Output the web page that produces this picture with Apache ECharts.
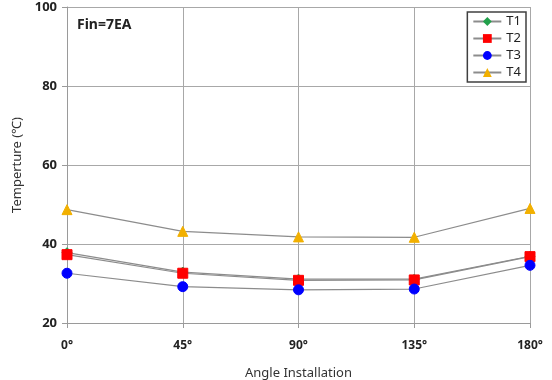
<!DOCTYPE html>
<html>
<head>
<meta charset="utf-8">
<script src="https://cdn.jsdelivr.net/npm/echarts@6/dist/echarts.min.js"></script>
<style>
  html, body { margin: 0; padding: 0; background: #fff; }
  #chart { width: 552px; height: 380px; }
</style>
</head>
<body>
<div id="chart"></div>
<script>
// Installation angles (x axis categories)
const angles = ['0°', '45°', '90°', '135°', '180°'];

// Measured temperatures (℃) for each thermocouple
const t1 = [37.8, 32.9, 31.1, 31.1, 36.9];
const t2 = [37.3, 32.6, 30.8, 30.9, 36.8];
const t3 = [32.6, 29.2, 28.4, 28.6, 34.6];
const t4 = [48.7, 43.2, 41.8, 41.7, 49.0];

const seriesNames = ['T1', 'T2', 'T3', 'T4'];
const yTicks = { min: 20, max: 100, interval: 20 };

const font = 'Noto Sans, DejaVu Sans, sans-serif';
const lineGray = '#8c8c8c';

function makeSeries(name, data, symbol, color, size) {
  return {
    name: name,
    type: 'line',
    data: data,
    symbol: symbol,
    symbolSize: size,
    itemStyle: { color: color, borderColor: color },
    lineStyle: { color: lineGray, width: 1.2 },
    emphasis: { disabled: true },
    animation: false
  };
}

const chart = echarts.init(document.getElementById('chart'), null, { renderer: 'canvas' });
chart.setOption({
  backgroundColor: '#fff',
  animation: false,
  grid: { left: 67, right: 22, top: 7, bottom: 57, outerBoundsMode: 'none', containLabel: false },
  graphic: [{
    type: 'text',
    left: 77, top: 18,
    style: { text: 'Fin=7EA', font: 'bold 14px ' + font, fill: '#222' }
  }],
  legend: {
    data: seriesNames,
    orient: 'vertical',
    right: 26, top: 12,
    itemWidth: 28, itemHeight: 11, itemGap: 4,
    padding: [3, 5, 3, 5],
    borderColor: '#404040', borderWidth: 1.5,
    backgroundColor: '#fff',
    textStyle: { fontFamily: font, fontSize: 13, color: '#222' }
  },
  xAxis: {
    type: 'category',
    data: angles,
    boundaryGap: false,
    name: 'Angle Installation',
    nameLocation: 'middle',
    nameGap: 44,
    nameTextStyle: { fontFamily: font, fontSize: 13, color: '#333' },
    axisLine: { lineStyle: { color: '#9a9a9a' } },
    axisTick: { show: true, alignWithLabel: true, length: 5, lineStyle: { color: '#9a9a9a' } },
    axisLabel: { fontFamily: font, fontWeight: 'bold', fontSize: 12, color: '#222', margin: 17 },
    splitLine: { show: true, lineStyle: { color: '#a8a8a8', width: 1 } }
  },
  yAxis: {
    type: 'value',
    min: yTicks.min, max: yTicks.max, interval: yTicks.interval,
    name: 'Temperture (℃)',
    nameLocation: 'middle',
    nameGap: 39,
    nameTextStyle: { fontFamily: font, fontSize: 13, color: '#333' },
    axisLine: { show: true, lineStyle: { color: '#9a9a9a' } },
    axisTick: { show: true, length: 5, lineStyle: { color: '#9a9a9a' } },
    axisLabel: { fontFamily: font, fontWeight: 'bold', fontSize: 13, color: '#222', margin: 10 },
    splitLine: { show: true, lineStyle: { color: '#a8a8a8', width: 1 } }
  },
  series: [
    makeSeries('T1', t1, 'diamond', '#22a04b', 10),
    makeSeries('T2', t2, 'rect', '#ff0000', 10),
    makeSeries('T3', t3, 'circle', '#0000ff', 10),
    makeSeries('T4', t4, 'triangle', '#f2b000', 10)
  ]
});
</script>
</body>
</html>
